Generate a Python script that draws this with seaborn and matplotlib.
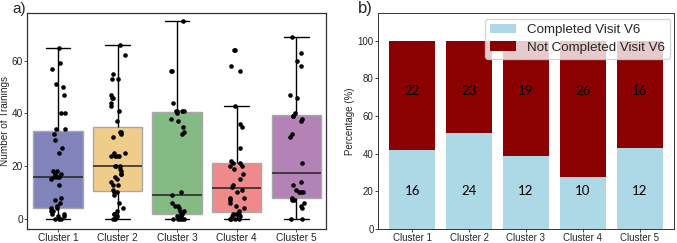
import numpy as np
import pandas as pd
import matplotlib
matplotlib.use("Agg")
import matplotlib.pyplot as plt
import seaborn as sns

clusters = ["Cluster 1", "Cluster 2", "Cluster 3", "Cluster 4", "Cluster 5"]

trainings_c1 = [0, 0, 0, 1, 1, 2, 2, 3, 3, 4, 4, 5, 6, 7, 8, 13, 15, 16, 16, 16,
                17, 17, 18, 18, 25, 27, 30, 32, 34, 34, 40, 40, 47, 50, 51, 57, 59, 65]
trainings_c2 = [0, 0, 1, 1, 2, 2, 3, 4, 6, 9, 10, 10, 11, 13, 13, 14, 15, 16, 17, 17,
                18, 19, 20, 20, 20, 24, 24, 24, 24, 25, 25, 31, 32, 33, 33, 37, 41, 43,
                44, 46, 46, 47, 53, 53, 55, 62, 66]
trainings_c3 = [0, 0, 0, 0, 0, 1, 1, 2, 2, 3, 3, 4, 5, 5, 6, 9, 10, 32, 33, 35, 37,
                38, 40, 41, 41, 41, 41, 44, 56, 56, 75]
trainings_c4 = [0, 0, 0, 0, 1, 1, 2, 2, 2, 3, 4, 5, 6, 7, 8, 8, 10, 11, 12, 13, 15,
                17, 19, 20, 20, 21, 21, 22, 27, 35, 36, 43, 56, 58, 64, 64]
trainings_c5 = [0, 0, 4, 5, 6, 7, 7, 8, 10, 10, 10, 11, 13, 14, 21, 31, 32, 37, 38,
                39, 39, 40, 46, 47, 58, 60, 63, 69]

completed = [16, 24, 12, 10, 12]
not_completed = [22, 23, 19, 26, 16]

box_colors = ["#8383BC", "#F0CC8A", "#84BA84", "#F08A8A", "#B383B8"]

rows = []
for name, vals in zip(clusters, [trainings_c1, trainings_c2, trainings_c3, trainings_c4, trainings_c5]):
    for v in vals:
        rows.append((name, v))
df = pd.DataFrame(rows, columns=["Cluster", "Trainings"])

sns.set_style("white")
plt.rcParams["font.family"] = ["Liberation Sans", "DejaVu Sans"]

fig = plt.figure(figsize=(6.77, 2.43), dpi=100)
ax1 = fig.add_axes([0.0399, 0.0584, 0.4417, 0.8869])
ax2 = fig.add_axes([0.5583, 0.0584, 0.4372, 0.8869])

# Panel a
sns.boxplot(data=df, x="Cluster", y="Trainings", hue="Cluster", palette=box_colors,
            order=clusters, hue_order=clusters, legend=False, width=0.83, whis=1.5,
            showfliers=False, linewidth=1.0, saturation=1, ax=ax1,
            boxprops=dict(edgecolor="#a8a8a8", linewidth=1.0),
            medianprops=dict(color="#222222", linewidth=1.1),
            whiskerprops=dict(color="black", linewidth=1.0),
            capprops=dict(color="black", linewidth=1.0))
np.random.seed(3)
sns.stripplot(data=df, x="Cluster", y="Trainings", order=clusters, color="black",
              size=3.3, jitter=0.13, ax=ax1, zorder=5)
ax1.set_xlim(-0.52, 4.5)
ax1.set_ylim(-3.8, 78)
ax1.set_yticks([0, 20, 40, 60])
ax1.set_xlabel("")
ax1.set_ylabel("Number of Trainings", fontsize=7.2, labelpad=1.5)
ax1.tick_params(axis="both", labelsize=7.3, length=2, width=0.6, color="#333333",
                labelcolor="#222222", pad=1, left=True, bottom=True)
for s in ax1.spines.values():
    s.set_color("#333333")
    s.set_linewidth(0.9)
fig.text(0.018, 0.945, "a)", fontsize=11)

# Panel b
comp = np.array(completed, dtype=float)
notc = np.array(not_completed, dtype=float)
pct_c = comp / (comp + notc) * 100
pct_n = notc / (comp + notc) * 100
x = np.arange(len(clusters))
ax2.bar(x, pct_c, width=0.8, color="#ADD8E6", linewidth=0, label="Completed Visit V6")
ax2.bar(x, pct_n, width=0.8, bottom=pct_c, color="#8B0000", linewidth=0,
        label="Not Completed Visit V6")
for i in range(len(clusters)):
    ax2.text(x[i], 20, str(completed[i]), ha="center", va="center", fontsize=9.5,
             color="black", family=["Lato", "DejaVu Sans"])
    ax2.text(x[i], 73, str(not_completed[i]), ha="center", va="center", fontsize=9.5,
             color="black", family=["Lato", "DejaVu Sans"])
ax2.set_xticks(x)
ax2.set_xticklabels(clusters)
ax2.set_xlim(-0.6, 4.6)
ax2.set_ylim(0, 114.5)
ax2.set_yticks([0, 20, 40, 60, 80, 100])
ax2.set_ylabel("Percentage (%)", fontsize=7, labelpad=2)
ax2.tick_params(axis="both", labelsize=7, length=2, width=0.6, pad=1,
                left=True, bottom=True)
for s in ax2.spines.values():
    s.set_color("#333333")
    s.set_linewidth(0.7)
leg = ax2.legend(loc="upper right", bbox_to_anchor=(0.988, 0.975), borderaxespad=0,
                 fontsize=9.6, framealpha=0.8, handlelength=1.9, handleheight=0.7,
                 handletextpad=0.85, borderpad=0.4, labelspacing=0.37)
fig.text(0.528, 0.945, "b)", fontsize=12)

fig.savefig("out.png", dpi=100)
